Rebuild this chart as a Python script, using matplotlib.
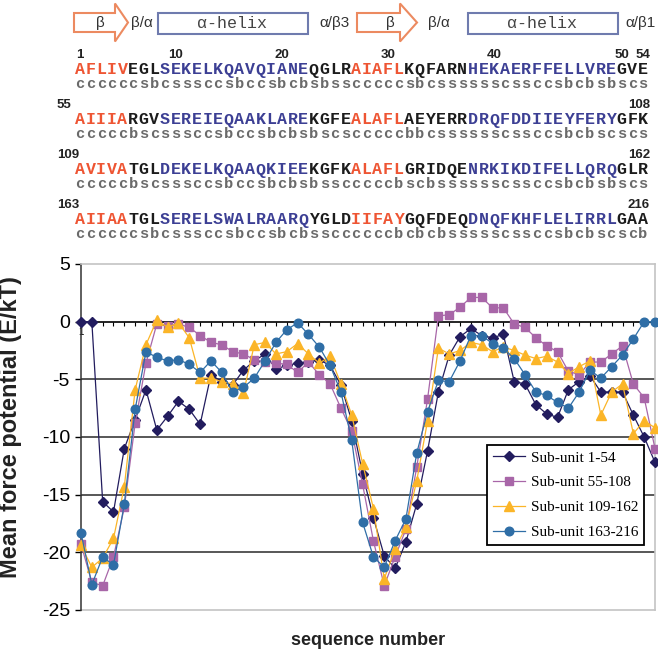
import matplotlib
matplotlib.use("Agg")
import matplotlib.pyplot as plt
from matplotlib.patches import Polygon, Rectangle

W, H = 658, 656
plt.rcParams['font.family'] = ['Liberation Sans', 'DejaVu Sans']

# ---- data ----
positions = list(range(1, 55))
sub_1_54 = [0, 0, -15.6, -16.5, -11.0, -8.5, -5.9, -9.4, -8.2, -6.9,
            -7.6, -8.9, -4.6, -5.2, -5.5, -4.2, -3.4, -2.8, -4.1, -3.8,
            -3.6, -3.5, -3.3, -3.8, -5.5, -8.6, -13.2, -17.0, -20.3, -21.4,
            -19.1, -15.8, -11.2, -6.1, -2.9, -1.3, -0.6, -1.2, -1.4, -1.1,
            -5.2, -5.4, -7.2, -8.0, -8.3, -5.9, -5.2, -4.7, -6.1, -6.1,
            -6.1, -8.1, -10.0, -12.2]
sub_55_108 = [-19.3, -22.6, -22.9, -20.4, -16.1, -8.8, -3.6, -0.2, -0.4, -0.2,
              -0.5, -1.2, -1.8, -2.0, -2.6, -2.8, -3.3, -3.5, -3.6, -3.7,
              -4.4, -3.5, -4.6, -5.4, -7.5, -9.5, -14.1, -19.0, -22.9, -20.4,
              -18.0, -12.6, -6.7, 0.5, 0.6, 1.25, 2.1, 2.1, 1.2, 1.2,
              -0.2, -0.5, -1.4, -2.1, -2.6, -4.3, -4.6, -3.5, -3.5, -2.8,
              -2.1, -5.4, -6.6, -11.0]
sub_109_162 = [-19.4, -21.3, -20.5, -18.8, -14.3, -5.9, -2.0, 0.15, -0.5, -0.1,
               -1.4, -4.9, -4.9, -5.2, -5.4, -6.2, -2.0, -1.8, -2.8, -2.6,
               -1.9, -2.8, -3.6, -3.0, -5.4, -8.1, -12.3, -16.2, -22.3, -19.7,
               -17.8, -13.8, -8.6, -2.3, -2.8, -2.5, -1.8, -2.0, -2.6, -2.2,
               -2.5, -2.9, -3.2, -3.0, -3.5, -4.5, -3.9, -3.4, -8.1, -6.1,
               -5.4, -9.7, -8.6, -9.2]
sub_163_216 = [-18.3, -22.8, -20.4, -21.1, -15.8, -7.6, -2.6, -3.1, -3.4, -3.3,
               -3.7, -4.4, -3.4, -4.4, -6.1, -5.7, -4.9, -3.4, -1.8, -0.7,
               -0.1, -1.1, -2.2, -3.8, -6.1, -10.3, -17.4, -20.4, -21.3, -19.0,
               -17.1, -11.4, -7.8, -5.1, -5.2, -3.4, -1.2, -1.2, -1.9, -2.3,
               -3.2, -4.6, -6.1, -6.4, -7.0, -7.5, -6.1, -4.2, -4.9, -3.9,
               -2.9, -1.5, 0, 0]
series_labels = ['Sub-unit 1-54', 'Sub-unit 55-108', 'Sub-unit 109-162', 'Sub-unit 163-216']

sequences = ["AFLIVEGLSEKELKQAVQIANEQGLRAIAFLKQFARNHEKAERFFELLVREGVE",
             "AIIIARGVSEREIEQAAKLAREKGFEALAFLAEYERRDRQFDDIIEYFERYGFK",
             "AVIVATGLDEKELKQAAQKIEEKGFKALAFLGRIDQENRKIKDIFELLQRQGLR",
             "AIIAATGLSERELSWALRAARQYGLDIIFAYGQFDEQDNQFKHFLELIRRLGAA"]
sec_struct = ["ccccccsbcsssccsbccsbcbsbs" + "scccccsbcsssssscssccsbcbsbscs",
              "cccccbscsssccsbccsbcbsbsc" + "scccccbbcsssssscssccsbcbscscs",
              "cccccbscsssccsbccsbcbsbs" + "scccccbscbsssssscssccsbcbsbscs",
              "ccccccsbcsssccsbccsbcbs" + "sccccccbcbcbssssscssccsbcbscscb"]
start_labels = ["1", "55", "109", "163"]
end_labels = ["54", "108", "162", "216"]
top_numbers = ["1", "10", "20", "30", "40", "50", "54"]
top_number_pos = [1, 10, 20, 30, 40, 52, 54]
strand_ranges = [(1, 5), (27, 31)]
helix_ranges = [(9, 22), (38, 51)]

fig = plt.figure(figsize=(W / 100, H / 100), dpi=100)

# header drawn in pixel coordinates
hd = fig.add_axes([0, 0, 1, 1])
hd.set_xlim(0, W)
hd.set_ylim(H, 0)
hd.axis('off')

orange_edge = '#EC8A60'
box_edge = '#6F7BAE'
for x0, x1, xt in [(74, 115, 128), (357, 400, 417)]:
    pts = [(x0, 13), (x1, 13), (x1, 3.5), (xt, 22.5), (x1, 41.5), (x1, 32), (x0, 32)]
    hd.add_patch(Polygon(pts, closed=True, fill=False, edgecolor=orange_edge, lw=1.5))
for bx in [(158, 308), (468, 618)]:
    hd.add_patch(Rectangle((bx[0], 13), bx[1] - bx[0], 20.5, fill=False,
                           edgecolor=box_edge, lw=1.5))
greek = dict(fontsize=11, color='#333333', va='center', ha='center')
hd.text(100, 23, 'β', **greek)
hd.text(142, 23, 'β/α', **greek)
hd.text(335, 23, 'α/β3', **greek)
hd.text(390, 23, 'β', **greek)
hd.text(439, 23, 'β/α', **greek)
hd.text(640, 23, 'α/β1', **greek)
for cx in (232, 542):
    hd.text(cx, 23, 'α-helix', family=['Liberation Mono', 'DejaVu Sans Mono'],
            fontsize=12, color='#444444', va='center', ha='center')


def residue_color(n):
    if any(a <= n <= b for a, b in strand_ranges):
        return '#EE5533'
    if any(a <= n <= b for a, b in helix_ranges):
        return '#3C3F94'
    return '#1c1c1c'


# sequence block, one residue per column
cx0, pitch = 80, 10.62
row_gap = 50
num_font = dict(fontsize=9.5, weight='bold', color='#222222', va='center')
for k in range(4):
    y_seq = 70 + k * row_gap
    y_num = y_seq - 14.5
    y_ss = y_seq + 13.5
    if k == 0:
        for lab, p in zip(top_numbers, top_number_pos):
            hd.text(cx0 + (p - 1) * pitch, y_num, lab, ha='center', **num_font)
    else:
        hd.text(57, y_num, start_labels[k], ha='left', **num_font)
        hd.text(650, y_num, end_labels[k], ha='right', **num_font)
    for i, ch in enumerate(sequences[k]):
        hd.text(cx0 + i * pitch, y_seq, ch, family='Liberation Mono', weight='bold',
                fontsize=12, color=residue_color(i + 1), ha='center', va='center')
    for i, ch in enumerate(sec_struct[k]):
        hd.text(cx0 + i * pitch, y_ss, ch, family='Liberation Mono', weight='bold',
                fontsize=11, color='#6a6a6a', ha='center', va='center')

# chart
ax = fig.add_axes([81 / W, 1 - 610 / H, (655 - 81) / W, (610 - 264) / H])
ax.set_xlim(1, 54)
ax.set_ylim(-25, 5)

for y in [-5, -10, -15, -20]:
    ax.axhline(y, color='#4a4a4a', lw=1.3, zorder=1)
ax.axhline(-25, color='#c4c4c4', lw=1.2, zorder=1, clip_on=False)

styles = [('#221c5e', 'D', 4.8), ('#a866a8', 's', 5.8),
          ('#fbb528', '^', 7), ('#2f6ea6', 'o', 6.2)]
all_series = [sub_1_54, sub_55_108, sub_109_162, sub_163_216]
for vals, lab, (c, m, ms) in zip(all_series, series_labels, styles):
    ax.plot(positions, vals, color=c, lw=0.9, marker=m, markersize=ms,
            markeredgecolor=c, markerfacecolor=c, label=lab, clip_on=False, zorder=3)

ax.spines['bottom'].set_position(('data', 0))
ax.spines['bottom'].set_color('black')
ax.spines['bottom'].set_linewidth(1.2)
ax.spines['left'].set_color('#333333')
ax.spines['left'].set_linewidth(1.1)
for s in ['top', 'right']:
    ax.spines[s].set_color('#c4c4c4')
    ax.spines[s].set_linewidth(1.2)

ax.set_xticks(positions)
ax.set_xticklabels(['1'] + [''] * 53)
ax.tick_params(axis='x', direction='out', length=3, width=0.8, labelsize=7, pad=1)
ax.set_yticks([-25, -20, -15, -10, -5, 0, 5])
ax.set_yticklabels(['-25', '-20', '-15', '-10', '-5', '0', '5'])
ax.tick_params(axis='y', direction='out', length=4, width=1, labelsize=14, pad=4)

ax.set_ylabel('Mean force potential (E/kT)', fontsize=17, weight='bold', color='#222222')
ax.yaxis.set_label_coords(-0.102, 0.53)
ax.set_xlabel('sequence number', fontsize=13, weight='bold', color='#222222')
ax.xaxis.set_label_coords(0.5, -0.065)

leg = ax.legend(loc='upper left', bbox_to_anchor=(487 / W, 1 - 445 / H),
                bbox_transform=fig.transFigure, fancybox=False, framealpha=1,
                edgecolor='black', borderaxespad=0, borderpad=0.4,
                handlelength=2.1, handletextpad=0.35, labelspacing=0.72,
                prop={'family': 'Liberation Serif', 'size': 11})
leg.get_frame().set_linewidth(1.3)

fig.savefig('out.png', dpi=100)
